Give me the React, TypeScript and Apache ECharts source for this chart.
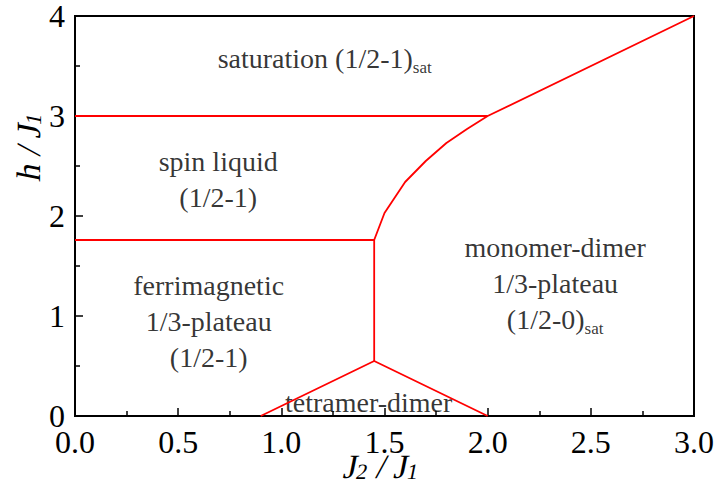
import React, { useEffect, useRef } from "react";
import * as echarts from "echarts";

// Phase boundaries (J2/J1, h/J1)
const saturationPlateauLine: [number, number][] = [[0, 3], [2.0, 3]];
const upperBoundary: [number, number][] = [
  [1.45, 1.76], [1.5, 2.03], [1.6, 2.34], [1.7, 2.55], [1.8, 2.73],
  [1.9, 2.87], [2.0, 3.0], [3.0, 4.0],
];
const ferriTopLine: [number, number][] = [[0, 1.76], [1.45, 1.76]];
const verticalLine: [number, number][] = [[1.45, 1.76], [1.45, 0.55]];
const tetramerDome: [number, number][] = [[0.9, 0], [1.45, 0.55], [2.0, 0]];

const xTicks = [0, 0.5, 1.0, 1.5, 2.0, 2.5, 3.0];
const yTicks = [0, 1, 2, 3, 4];

// Region labels: [x, y, text]
const regionLabels: [number, number, string][] = [
  [1.21, 3.58, "{t|saturation (1/2-1)}{s|sat}"],
  [0.694, 2.37, "{t|spin liquid}\n{t|(1/2-1)}"],
  [0.648, 0.95, "{t|ferrimagnetic}\n{t|1/3-plateau}\n{t|(1/2-1)}"],
  [2.327, 1.33, "{t|monomer-dimer}\n{t|1/3-plateau}\n{t|(1/2-0)}{s|sat}"],
  [1.423, 0.14, "{t|tetramer-dimer}"],
];

const FONT = "Liberation Serif";

export default function App() {
  const ref = useRef<HTMLDivElement>(null);
  useEffect(() => {
    if (!ref.current) return;
    const chart = echarts.init(ref.current, undefined, { renderer: "svg" });
    const red = "#ff0000";
    const lineSeries = (data: [number, number][]) => ({
      type: "line",
      data,
      showSymbol: false,
      symbol: "none",
      lineStyle: { color: red, width: 1.8 },
      clip: false,
      silent: true,
    });
    const rich = {
      t: { fontFamily: FONT, fontSize: 28, lineHeight: 36, color: "#000" },
      s: { fontFamily: FONT, fontSize: 17, lineHeight: 8, verticalAlign: "bottom", color: "#000" },
    };
    const titleRich = {
      i: { fontFamily: FONT, fontSize: 34, lineHeight: 34, color: "#000" },
      n: { fontFamily: FONT, fontSize: 34, lineHeight: 34, color: "#000" },
      s: { fontFamily: FONT, fontSize: 22, lineHeight: 8, verticalAlign: "bottom", color: "#000" },
    };
    chart.setOption({
      animation: false,
      backgroundColor: "#fff",
      textStyle: { fontFamily: FONT },
      grid: {
        left: 75, right: 23, top: 13, bottom: 81,
        show: true, borderColor: "#000", borderWidth: 2, backgroundColor: "transparent",
      },
      xAxis: {
        type: "value", min: 0, max: 3, interval: 0.5,
        axisLine: { show: true, lineStyle: { color: "#000", width: 2 } },
        axisTick: { show: true, inside: true, length: 8, lineStyle: { color: "#000", width: 1.5 } },
        minorTick: { show: true, splitNumber: 2, length: 5, lineStyle: { color: "#000", width: 1.5 } },
        splitLine: { show: false },
        axisLabel: {
          fontFamily: FONT, fontSize: 32, lineHeight: 28, color: "#000", margin: 12,
          showMinLabel: true, showMaxLabel: true,
          formatter: (v: number) => (xTicks.includes(v) ? v.toFixed(1) : ""),
        },
      },
      yAxis: {
        type: "value", min: 0, max: 4, interval: 1,
        axisLine: { show: true, lineStyle: { color: "#000", width: 2 } },
        axisTick: { show: true, inside: true, length: 8, lineStyle: { color: "#000", width: 1.5 } },
        minorTick: { show: true, splitNumber: 2, length: 5, lineStyle: { color: "#000", width: 1.5 } },
        splitLine: { show: false },
        axisLabel: {
          fontFamily: FONT, fontSize: 32, lineHeight: 24, color: "#000", margin: 10,
          showMinLabel: true, showMaxLabel: true,
          formatter: (v: number) => (yTicks.includes(v) ? String(v) : ""),
        },
      },
      graphic: [
        {
          type: "text",
          x: 382, y: 466,
          skewX: -0.2,
          style: {
            text: "{i|J}{s|2}{n| / }{i|J}{s|1}",
            align: "center", verticalAlign: "middle",
            rich: titleRich,
          },
        },
        {
          type: "text",
          x: 28, y: 146,
          rotation: Math.PI / 2,
          skewX: -0.2,
          style: {
            text: "{i|h}{n| / }{i|J}{s|1}",
            align: "center", verticalAlign: "middle",
            rich: titleRich,
          },
        },
      ],
      series: [
        lineSeries(saturationPlateauLine),
        lineSeries(upperBoundary),
        lineSeries(ferriTopLine),
        lineSeries(verticalLine),
        lineSeries(tetramerDome),
        {
          type: "scatter",
          symbolSize: 0,
          silent: true,
          data: regionLabels.map(([x, y, text]) => ({
            value: [x, y],
            label: { formatter: text },
          })),
          label: {
            show: true,
            position: "inside",
            align: "center",
            verticalAlign: "middle",
            fontFamily: FONT,
            rich,
          },
        },
      ],
    });
    return () => chart.dispose();
  }, []);
  return (
    <div
      ref={ref}
      style={{ position: "fixed", left: 0, top: 0, width: 717, height: 497, background: "#fff" }}
    />
  );
}
